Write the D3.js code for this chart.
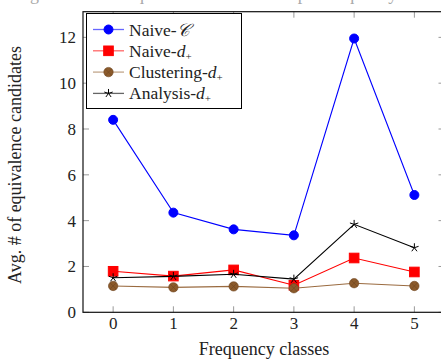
<!DOCTYPE html>
<html>
<head>
<meta charset="utf-8">
<script src="https://cdn.jsdelivr.net/npm/d3@7"></script>
<style>
  body { margin: 0; background: #fff; }
  text { font-family: "Liberation Serif", "DejaVu Serif", serif; fill: #222; }
</style>
</head>
<body>
<div id="vis"></div>
<script>
// data
var classes = [0, 1, 2, 3, 4, 5];
var naiveC = [8.4, 4.35, 3.62, 3.36, 11.95, 5.12];
var naiveD = [1.79, 1.58, 1.85, 1.18, 2.37, 1.76];
var clusteringD = [1.15, 1.09, 1.13, 1.05, 1.27, 1.15];
var analysisD = [1.51, 1.57, 1.66, 1.45, 3.84, 2.82];
var yTicks = [0, 2, 4, 6, 8, 10, 12];

var width = 441;
var height = 360;

var svg = d3.select('#vis')
  .append('svg')
  .attr('width', width)
  .attr('height', height);

var x = d3.scaleLinear()
  .domain([-0.5, 5.5])
  .range([83, 444.5]);

var y = d3.scaleLinear()
  .domain([0, 13.12])
  .range([312.3, 11.7]);

// title, cut off at the very top like in the original
svg.append('text')
  .attr('x', 263)
  .attr('y', 0)
  .attr('text-anchor', 'middle')
  .style('font-size', '18px')
  .style('fill', '#aaa')
  .text('Avg. number of equivalence candidates per frequency class (log scale)');

// ticks on all four sides, pointing inward
var tickLen = 6;
var ticks = svg.append('g').attr('stroke', '#999').attr('stroke-width', 1);
classes.forEach(function(c) {
  ticks.append('line')
    .attr('x1', x(c)).attr('x2', x(c))
    .attr('y1', y.range()[0]).attr('y2', y.range()[0] - tickLen);
  ticks.append('line')
    .attr('x1', x(c)).attr('x2', x(c))
    .attr('y1', y.range()[1]).attr('y2', y.range()[1] + tickLen);
});
yTicks.forEach(function(t) {
  ticks.append('line')
    .attr('x1', x.range()[0]).attr('x2', x.range()[0] + tickLen)
    .attr('y1', y(t)).attr('y2', y(t));
  ticks.append('line')
    .attr('x1', x.range()[1]).attr('x2', x.range()[1] - tickLen)
    .attr('y1', y(t)).attr('y2', y(t));
});

// axis box
svg.append('rect')
  .attr('x', x.range()[0])
  .attr('y', y.range()[1])
  .attr('width', x.range()[1] - x.range()[0])
  .attr('height', y.range()[0] - y.range()[1])
  .attr('fill', 'none')
  .attr('stroke', '#111')
  .attr('stroke-width', 1.2);

// tick labels
svg.selectAll('.xlab')
  .data(classes)
  .enter().append('text')
  .attr('class', 'xlab')
  .attr('x', function(d) { return x(d); })
  .attr('y', 329)
  .attr('text-anchor', 'middle')
  .style('font-size', '17px')
  .text(function(d) { return d; });

svg.selectAll('.ylab')
  .data(yTicks)
  .enter().append('text')
  .attr('class', 'ylab')
  .attr('x', 76)
  .attr('y', function(d) { return y(d) + 6; })
  .attr('text-anchor', 'end')
  .style('font-size', '17px')
  .text(function(d) { return d; });

// axis titles
svg.append('text')
  .attr('x', 264)
  .attr('y', 355)
  .attr('text-anchor', 'middle')
  .style('font-size', '18px')
  .text('Frequency classes');

svg.append('text')
  .attr('transform', 'translate(21,165) rotate(-90)')
  .attr('text-anchor', 'middle')
  .style('font-size', '18px')
  .text('Avg. # of equivalence candidates');

// series
var series = [
  { name: 'Naive-', sub: 'C', values: naiveC, color: '#0000ff', marker: 'circle' },
  { name: 'Naive-', sub: 'd', values: naiveD, color: '#ff0000', marker: 'square' },
  { name: 'Clustering-', sub: 'd', values: clusteringD, color: '#9a6b40', marker: 'otimes' },
  { name: 'Analysis-', sub: 'd', values: analysisD, color: '#000000', marker: 'star' }
];

var line = d3.line()
  .x(function(d, i) { return x(classes[i]); })
  .y(function(d) { return y(d); });

// five-armed star like the pgfplots "star" mark
var star = {
  draw: function(context, size) {
    var r = Math.sqrt(size) * 0.7;
    for (var k = 0; k < 5; k++) {
      var a = -Math.PI / 2 + k * 2 * Math.PI / 5;
      context.moveTo(0, 0);
      context.lineTo(r * Math.cos(a), r * Math.sin(a));
    }
  }
};

function drawMarker(g, type, color, cx, cy) {
  if (type == 'circle') {
    g.append('circle').attr('cx', cx).attr('cy', cy).attr('r', 4.5).attr('fill', color);
  } else if (type == 'square') {
    g.append('rect').attr('x', cx - 4.8).attr('y', cy - 4.8)
      .attr('width', 9.6).attr('height', 9.6).attr('fill', color);
  } else if (type == 'otimes') {
    g.append('circle').attr('cx', cx).attr('cy', cy).attr('r', 4.7)
      .attr('fill', '#8b5a2b').attr('stroke', '#6e4520').attr('stroke-width', 0.6);
    g.append('path')
      .attr('d', 'M' + (cx - 3.2) + ',' + (cy - 3.2) + 'L' + (cx + 3.2) + ',' + (cy + 3.2) +
        'M' + (cx - 3.2) + ',' + (cy + 3.2) + 'L' + (cx + 3.2) + ',' + (cy - 3.2))
      .attr('stroke', '#6e4520').attr('stroke-width', 0.6);
  } else if (type == 'star') {
    g.append('path')
      .attr('d', d3.symbol().type(star).size(40))
      .attr('transform', 'translate(' + cx + ',' + cy + ')');
  }
}

series.forEach(function(s) {
  var g = svg.append('g');
  g.append('path')
    .datum(s.values)
    .attr('fill', 'none')
    .attr('stroke', s.color)
    .attr('stroke-width', 1.1)
    .attr('d', line);
  s.values.forEach(function(v, i) {
    var mg = g.append('g').attr('stroke', s.color).attr('stroke-width', 1);
    drawMarker(mg, s.marker, s.color, x(classes[i]), y(v));
  });
});

// legend
var legend = svg.append('g');
legend.append('rect')
  .attr('x', 86.5)
  .attr('y', 13.5)
  .attr('width', 155)
  .attr('height', 95)
  .attr('fill', '#fff')
  .attr('stroke', '#000')
  .attr('stroke-width', 1);

series.forEach(function(s, i) {
  var ly = 29.5 + i * 21.3;
  var lg = legend.append('g').attr('stroke', s.color);
  lg.append('line')
    .attr('x1', 93).attr('x2', 124)
    .attr('y1', ly).attr('y2', ly)
    .attr('stroke', s.color)
    .attr('stroke-opacity', 0.6)
    .attr('stroke-width', 1.3);
  drawMarker(lg, s.marker, s.color, 108.5, ly);
  var t = legend.append('text')
    .attr('x', 129)
    .attr('y', ly + 6)
    .style('font-size', '17.5px');
  t.append('tspan').text(s.name);
  if (s.sub == 'C') {
    t.append('tspan').style('font-style', 'italic').style('font-family', '"DejaVu Serif", serif').text('\uD835\uDC9E');
  } else {
    t.append('tspan').style('font-style', 'italic').text('d');
    t.append('tspan').attr('dy', 3).style('font-size', '11px').text('+');
  }
});
</script>
</body>
</html>
